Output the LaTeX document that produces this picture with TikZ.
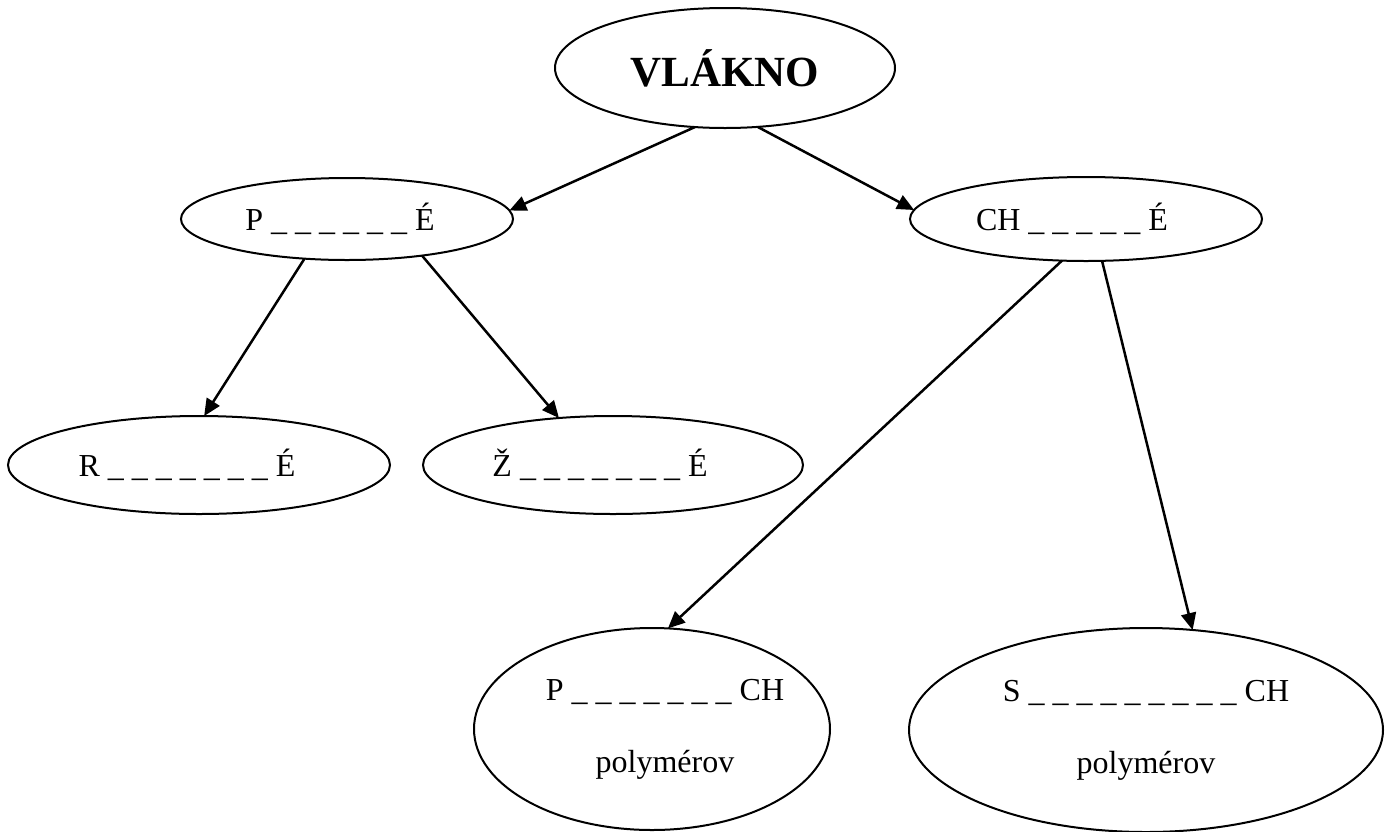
\documentclass[tikz,border=0pt]{standalone}
\usepackage{fontspec}
\setmainfont{Liberation Serif}
\usetikzlibrary{shapes.geometric,arrows.meta}
\tikzset{
  oval/.style={ellipse,draw,line width=1pt,inner sep=0pt,outer sep=0pt,
    font=\fontsize{16}{36}\selectfont,align=center},
  link/.style={line width=1.25pt,-{Triangle[length=8.5pt,width=7.5pt]}}
}
\begin{document}
\begin{tikzpicture}[x=0.5pt,y=-0.5pt]
\clip (0,0) rectangle (1392,831);
\node[oval,minimum width=170pt,minimum height=60pt,
  font=\fontsize{21.5}{26}\selectfont\bfseries] (v) at (725,68) {VLÁKNO};
\node[oval,minimum width=166pt,minimum height=41pt] (p) at (347,219)
  {P \_ \_ \_ \_ \_ \_ É\hspace{7pt}};
\node[oval,minimum width=176pt,minimum height=42pt] (ch) at (1086,219)
  {CH \_ \_ \_ \_ \_ É\hspace{14pt}};
\node[oval,minimum width=191pt,minimum height=49pt] (r) at (199,465)
  {R \_ \_ \_ \_ \_ \_ \_ É\hspace{12pt}};
\node[oval,minimum width=190pt,minimum height=49pt] (z) at (613,465)
  {Ž \_ \_ \_ \_ \_ \_ \_ É\hspace{13pt}};
\node[oval,inner xsep=-6pt,minimum width=178pt,minimum height=101pt] (pc) at (652,729)
  {\hspace{13pt}P \_ \_ \_ \_ \_ \_ \_ CH\\\hspace{13pt}polymérov};
\node[oval,minimum width=237pt,minimum height=102pt] (sc) at (1146,730)
  {S \_ \_ \_ \_ \_ \_ \_ \_ \_ CH\\polymérov};
\draw[link] (v.243) -- (p.3);
\draw[link] (v.299) -- (ch.177);
\draw[link] (p.223) -- (r.84);
\draw[link] (p.334) -- (z.139);
\draw[link] (ch.240) -- (pc.81);
\draw[link] (ch.291) -- (sc.65);
\end{tikzpicture}
\end{document}
